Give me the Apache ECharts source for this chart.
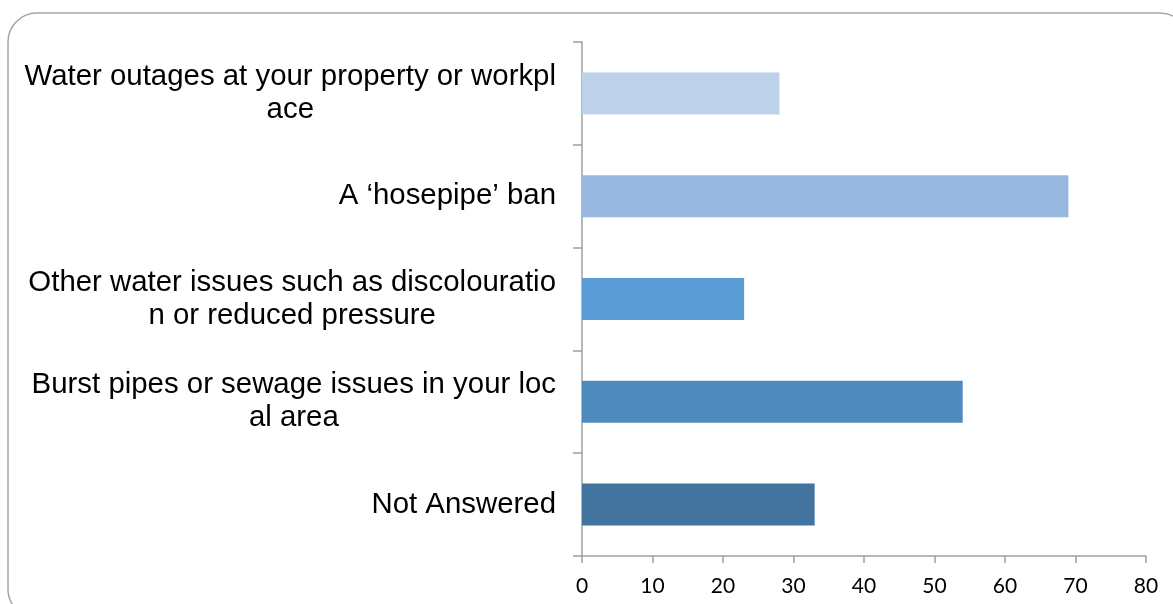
<!DOCTYPE html>
<html>
<head>
<meta charset="utf-8">
<script src="https://cdn.jsdelivr.net/npm/echarts@6/dist/echarts.min.js"></script>
<style>
  html, body { margin: 0; padding: 0; background: #ffffff; }
  #chart { width: 1173px; height: 604px; }
</style>
</head>
<body>
<div id="chart"></div>
<script>
// Survey categories (as they wrap in the chart), top to bottom
const categories = [
  'Water outages at your property or workpl\nace',
  'A \u2018hosepipe\u2019 ban',
  'Other water issues such as discolouratio\nn or reduced pressure',
  'Burst pipes or sewage issues in your loc\nal area',
  'Not Answered'
];
// Number of responses per category
const responses = [28, 69, 23, 54, 33];
// Fill colour for each bar, top to bottom
const barColors = ['#BDD1EA', '#97B8DF', '#5B9BD6', '#4F8ABD', '#43739F'];
// Value axis range and step
const xMin = 0, xMax = 80, xStep = 10;

const chart = echarts.init(document.getElementById('chart'), null, { renderer: 'canvas' });

const axisGray = '#a0a0a0';
const labelFont = '"Liberation Sans", Arial, sans-serif';

chart.setOption({
  animation: false,
  backgroundColor: '#ffffff',
  graphic: [{
    type: 'rect',
    shape: { x: 8, y: 13, width: 1181, height: 605, r: 29 },
    style: { fill: 'none', stroke: '#a6a6a6', lineWidth: 1.5 },
    silent: true,
    z: -1
  }],
  grid: { left: 582, right: 27, top: 42, bottom: 48, containLabel: false },
  xAxis: {
    type: 'value',
    min: xMin,
    max: xMax,
    interval: xStep,
    splitLine: { show: false },
    axisLine: { show: true, lineStyle: { color: axisGray, width: 1.5 } },
    axisTick: { show: true, length: 7, lineStyle: { color: axisGray, width: 1.5 } },
    axisLabel: {
      margin: 20,
      color: '#000000',
      fontFamily: 'Lato, "Liberation Sans", sans-serif',
      fontSize: 21
    }
  },
  yAxis: {
    type: 'category',
    data: categories,
    inverse: true,
    axisLine: { show: true, lineStyle: { color: axisGray, width: 1.5 } },
    axisTick: { show: true, length: 9, lineStyle: { color: axisGray, width: 1.5 } },
    axisLabel: {
      margin: 26,
      color: '#000000',
      fontFamily: labelFont,
      fontSize: 29.4,
      lineHeight: 33,
      // centre each wrapped line within the label block
      formatter: (v) => v.split('\n').map((l) => '{c|' + l + '}').join('\n'),
      rich: {
        c: {
          align: 'center',
          color: '#000000',
          fontFamily: labelFont,
          fontSize: 29.4,
          lineHeight: 33
        }
      }
    }
  },
  series: [{
    type: 'bar',
    barWidth: 42,
    data: responses.map((v, i) => ({ value: v, itemStyle: { color: barColors[i] } }))
  }]
});
</script>
</body>
</html>
